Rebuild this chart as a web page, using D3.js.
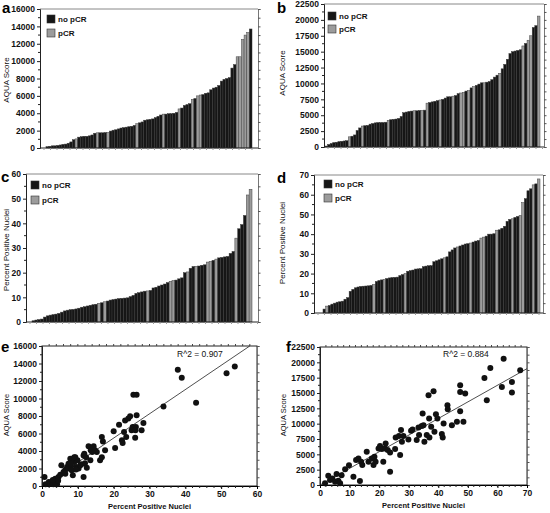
<!DOCTYPE html>
<html><head><meta charset="utf-8">
<script src="https://cdn.jsdelivr.net/npm/d3@7"></script>
<style>html,body{margin:0;padding:0;background:#fff}svg{display:block}</style>
</head><body>
<script>
// ---------- DATA ----------
// panel a: AQUA score per case (sorted), pCR flag 1 = pCR
const aquaA = [150,200,250,250,300,350,420,450,550,700,950,1050,1250,1300,1350,1350,1400,1500,1700,1750,1750,1750,1780,1800,1950,2050,2100,2200,2300,2350,2400,2450,2500,2600,2800,2900,3000,3200,3250,3300,3350,3500,3650,3800,3900,3900,3950,3950,4000,4100,4500,4600,4900,5000,5100,5600,5700,6000,6100,6150,6300,6350,6700,6900,7000,7200,7700,7900,8000,8100,9200,9600,10500,10500,12500,13000,13300,13700];
const pcrA  = [0,0,0,0,0,0,0,0,0,0,0,1,0,0,0,0,0,0,0,1,0,0,0,1,0,0,0,0,0,0,0,0,0,0,1,0,0,0,0,0,0,0,0,0,1,0,0,0,0,0,1,0,0,0,0,1,0,1,1,0,0,0,0,0,0,0,0,0,0,0,0,0,1,1,1,1,1,0];
// panel b
const aquaB = [150,400,550,700,750,850,900,950,1000,1600,1700,1900,2600,3000,3300,3350,3400,3600,3700,3800,3850,3850,3850,3900,4200,4300,4350,4400,4500,4800,5400,5500,5600,5650,5700,5700,5750,5750,5800,6900,7000,7100,7200,7300,7400,7500,7700,7900,7900,8000,8100,8400,8500,8600,8800,8900,9300,9500,9700,9900,10100,10100,10200,10300,10600,11000,11300,11600,12300,13000,13800,14700,15000,15100,15200,15300,15900,16300,16800,17500,18800,19100,20600];
const pcrB  = [0,0,0,0,0,0,0,0,0,1,0,0,0,0,1,0,0,0,0,0,0,0,0,0,1,0,0,0,0,0,0,0,0,0,1,0,0,1,0,1,0,0,0,0,1,0,0,0,0,1,0,0,1,1,0,1,0,1,0,0,0,1,0,0,0,0,0,1,0,0,0,0,0,0,0,0,1,0,1,1,0,0,1];
// panel c: percent positive nuclei
const pctC = [0.5,0.8,1.0,1.2,2.0,2.5,2.8,3.0,3.2,3.5,4.0,4.5,4.8,5.0,5.1,5.3,5.6,6.0,6.2,6.5,6.8,7.0,7.2,7.6,7.8,8.2,8.5,8.9,9.1,9.3,9.5,9.6,9.7,9.8,10.3,10.8,11.6,11.9,12.2,12.5,12.6,12.8,13.8,14.1,14.6,15.0,15.4,16.0,16.5,16.8,17.0,17.5,17.9,20.0,20.3,21.8,22.5,22.6,22.7,23.0,23.2,24.3,24.6,25.0,25.5,26.0,26.2,26.4,26.6,27.8,28.6,34.0,37.8,39.5,43.2,51.5,53.8];
const pcrC = [0,0,0,0,0,0,0,0,0,0,0,0,0,0,0,0,0,0,0,0,0,0,0,1,0,1,0,0,0,0,0,0,0,0,0,0,0,0,0,0,1,0,0,0,0,0,0,0,1,1,0,0,0,0,1,0,0,1,0,0,0,1,1,0,1,0,0,0,0,0,0,1,0,0,0,1,1];
// panel d
const pctD = [2,3.5,3.8,4.5,5,5.5,5.7,6,7,7.8,11,12,12.8,13.2,13.5,13.6,13.7,13.8,14,14.5,16,16.5,16.8,17,17.5,17.8,18,18.1,18.2,19,19.5,20,21.2,21.5,21.8,22.3,22.4,22.5,23.5,23.8,24,24,26,26.5,27,27.5,28,28.5,31,32,33,33.5,34,34.5,35,35.2,35.5,36,36.5,36.8,38,38.5,39,40,40,40.2,42,42.2,43,44,46.5,47.5,47.8,48.5,49,49.5,56,58,62,63,65,65.5,68];
const pcrD = [0,1,0,0,0,0,0,0,0,0,0,0,0,0,0,0,0,0,0,1,0,0,0,1,0,0,0,0,0,0,0,1,0,0,0,0,0,0,0,0,0,0,0,0,0,0,1,0,0,0,0,1,0,0,0,0,1,0,0,0,1,1,0,0,0,0,1,0,0,0,0,0,1,0,0,1,1,0,0,0,1,0,1];
// panel e: scatter (percent positive, AQUA)
const pctE  = [0.7,1,1.9,2.3,2.8,3.2,3.7,4.2,3.7,4.6,5.1,5.4,6,6.5,7,7.4,7.4,7.9,8.1,8.3,8.6,9,9.3,9.6,9.9,10.2,10.7,11.6,11.6,11.8,12.3,12.5,13,13.5,13.6,14.4,14.8,15.3,16.2,16.7,16.7,17,17.6,20,20.4,21.5,22.3,22.5,22.9,23.2,23.5,24.1,24.6,25,25.3,25.5,26,26.2,26.4,26.4,26.1,27.8,28.3,33.9,37.9,39,43,51.5,53.8,8,9.5,11,6.5,4.5,3,12,14,9];
const aquaE = [1030,200,460,270,460,190,460,190,840,1030,1300,2360,1600,1870,2170,2000,2550,3120,2250,1800,1220,2740,3300,2170,2930,2000,2360,1030,3500,3700,3300,2100,4530,2930,4080,4530,4080,3890,2930,3300,5600,5100,4080,6250,4340,7000,5220,4910,6160,7500,5600,7720,7960,6360,6740,10440,5520,6740,10440,8080,6360,6360,7200,9100,13300,12380,9520,12900,13670,2600,1900,2500,1400,600,700,2600,3900,3300];
const fitE = {slope: 277, intercept: -60, r2: "R^2 = 0.907"};
// panel f
const pctF  = [1.7,2.8,3.4,4.2,5.1,5.6,6.2,6.8,7.3,8.5,9.8,11.3,12.2,13,13.5,13.9,14.3,15.8,16.4,17.5,18.1,18.4,18.8,19.8,20.3,20.9,21.4,22,22.2,22.9,23.7,23.7,25.4,25.6,26.7,27.1,27.4,27.7,28.2,29.9,30.8,31.3,32.7,33.3,33.5,34.4,34.7,35,35.3,36.1,36.7,36.9,37,37.6,38.4,38.7,39.2,39.7,41.2,41.5,41.8,43.1,43.2,44.6,46.3,47.4,47.4,47.4,48.5,49.1,55.6,56.4,57.6,61.5,62.1,64.9,64.9,67.7];
const aquaF = [270,1520,810,1080,540,1790,700,270,1570,2550,3200,1360,4070,4340,650,3800,3250,5420,3800,4340,3250,4610,3800,5960,6340,5860,3800,5960,6780,5690,2170,5310,5860,7760,7970,4880,8950,7050,7970,7430,8840,9060,7320,9380,8140,9600,11660,9760,7050,8140,14640,10850,7760,9490,15290,8680,11550,10850,8300,7760,10030,13010,12360,9760,10300,16270,15180,12040,10300,14910,17460,13830,19080,15990,20600,16810,15070,18710];
const fitF = {slope: 271, intercept: 0, r2: "R^2 = 0.884"};

const legendLabels = ["no pCR", "pCR"];
const titleAqua = "AQUA Score", titlePct = "Percent Positive Nuclei";

// ---------- DRAW ----------
const svg = d3.select("body").append("svg").attr("width",550).attr("height",513);
const FONT = "Liberation Sans, Arial, sans-serif";
const DARK = "#161616", GREY = "#9c9c9c";

function yAxes(g, y, l, r, majors, minors, fmt) {
  const ax = g.append("g").attr("transform",`translate(${l},0)`)
    .call(d3.axisLeft(y).tickValues(majors).tickSize(3).tickPadding(2).tickFormat(fmt));
  ax.select(".domain").attr("stroke","#222");
  ax.selectAll(".tick line").attr("stroke","#222");
  ax.selectAll("text").attr("font-family",FONT).attr("font-size","8.5px").attr("font-weight","bold").attr("fill","#111");
  minors.forEach(v=>g.append("line").attr("x1",l-2).attr("x2",l).attr("y1",y(v)).attr("y2",y(v)).attr("stroke","#222"));
  const ar = g.append("g").attr("transform",`translate(${r},0)`)
    .call(d3.axisRight(y).tickValues(majors.concat(minors)).tickSize(2.5).tickFormat(""));
  ar.select(".domain").attr("stroke","#777");
  ar.selectAll(".tick line").attr("stroke","#555");
}

function barPanel(o) {
  const g = svg.append("g");
  const y = d3.scaleLinear().domain([0,o.yMax]).range([o.b,o.t]);
  const x = d3.scaleBand().domain(d3.range(o.values.length)).range([o.x0,o.x1]).paddingInner(0);
  // top frame
  g.append("line").attr("x1",o.l).attr("x2",o.r).attr("y1",o.t).attr("y2",o.t).attr("stroke","#888");
  // bars
  g.selectAll("rect.bar").data(o.values).join("rect")
    .attr("x",(d,i)=>x(i)).attr("width",x.bandwidth())
    .attr("y",d=>y(d)).attr("height",d=>o.b-y(d))
    .attr("fill",(d,i)=>o.pcr[i]?GREY:DARK)
    .attr("stroke",(d,i)=>o.pcr[i]?"#444":"#3a3a3a").attr("stroke-width",0.5);
  yAxes(g,y,o.l,o.r,d3.range(0,o.yMax+1e-9,o.step),d3.range(o.step/2,o.yMax,o.step),d3.format("d"));
  // bottom axis line + small ticks
  g.append("line").attr("x1",o.l).attr("x2",o.r).attr("y1",o.b).attr("y2",o.b).attr("stroke","#222");
  d3.range(o.l+4,o.r,6.5).forEach(v=>g.append("line").attr("x1",v).attr("x2",v).attr("y1",o.b).attr("y2",o.b+2).attr("stroke","#999"));
  // legend
  [0,1].forEach(k=>{
    g.append("rect").attr("x",o.lx).attr("y",o.ly+k*o.lgap).attr("width",8).attr("height",8)
      .attr("fill",k?GREY:DARK).attr("stroke","#333").attr("stroke-width",0.6);
    g.append("text").attr("x",o.lx+11).attr("y",o.ly+k*o.lgap+7).text(legendLabels[k])
      .attr("font-family",FONT).attr("font-size","8px").attr("font-weight","bold").attr("fill","#111");
  });
  g.append("text").attr("x",o.letX).attr("y",o.letY).text(o.letter)
    .attr("font-family",FONT).attr("font-size","15px").attr("font-weight","bold");
  g.append("text").attr("transform",`translate(${o.tx},${o.ty}) rotate(-90)`).attr("text-anchor","middle")
    .text(o.title).attr("font-family",FONT).attr("font-size","8px").attr("fill","#111");
}

function scatterPanel(o) {
  const g = svg.append("g");
  const x = d3.scaleLinear().domain([0,o.xMax]).range([o.l,o.r]);
  const y = d3.scaleLinear().domain([0,o.yMax]).range([o.b,o.t]);
  g.append("rect").attr("x",o.l).attr("y",o.t).attr("width",o.r-o.l).attr("height",o.b-o.t)
    .attr("fill","none").attr("stroke","#222");
  yAxes(g,y,o.l,o.r,d3.range(0,o.yMax+1e-9,o.yStep),d3.range(o.yStep/2,o.yMax,o.yStep),d3.format("d"));
  const ax = g.append("g").attr("transform",`translate(0,${o.b})`)
    .call(d3.axisBottom(x).tickValues(d3.range(0,o.xMax+1e-9,10)).tickSize(3).tickPadding(1.5).tickFormat(d3.format("d")));
  ax.selectAll("text").attr("font-family",FONT).attr("font-size","8.5px").attr("font-weight","bold").attr("fill","#111");
  d3.range(2,o.xMax,2).forEach(v=>{
    g.append("line").attr("x1",x(v)).attr("x2",x(v)).attr("y1",o.b).attr("y2",o.b+2).attr("stroke","#222");
    g.append("line").attr("x1",x(v)).attr("x2",x(v)).attr("y1",o.t).attr("y2",o.t-2).attr("stroke","#444");
  });
  // fit line
  const xs = Math.max(0,-o.fit.intercept/o.fit.slope), xe = Math.min(o.xMax,(o.yMax-o.fit.intercept)/o.fit.slope);
  g.append("line").attr("x1",x(xs)).attr("y1",y(o.fit.slope*xs+o.fit.intercept))
    .attr("x2",x(xe)).attr("y2",y(o.fit.slope*xe+o.fit.intercept)).attr("stroke","#222").attr("stroke-width",0.8);
  g.selectAll("circle").data(o.xs).join("circle")
    .attr("cx",d=>x(d)).attr("cy",(d,i)=>y(o.ys[i])).attr("r",3).attr("fill","#111");
  g.append("text").attr("x",o.rx).attr("y",o.ry).text(o.fit.r2)
    .attr("font-family",FONT).attr("font-size","8.5px").attr("fill","#111");
  g.append("text").attr("x",o.letX).attr("y",o.letY).text(o.letter)
    .attr("font-family",FONT).attr("font-size","15px").attr("font-weight","bold");
  g.append("text").attr("transform",`translate(${o.tx},${o.ty}) rotate(-90)`).attr("text-anchor","middle")
    .text(titleAqua).attr("font-family",FONT).attr("font-size","7.5px").attr("fill","#111");
  g.append("text").attr("x",(o.l+o.r)/2).attr("y",o.b+23).attr("text-anchor","middle")
    .text(titlePct).attr("font-family",FONT).attr("font-size","7.5px").attr("font-weight","bold").attr("fill","#111");
}

barPanel({values:aquaA,pcr:pcrA,yMax:16000,step:2000,l:40,r:258,t:9,b:148,x0:46,x1:252,
  lx:47,ly:15,lgap:14,letter:"a",letX:2,letY:13,title:titleAqua,tx:9,ty:80});
barPanel({values:aquaB,pcr:pcrB,yMax:22500,step:2500,l:324,r:544,t:4,b:147,x0:325,x1:540,
  lx:328,ly:12,lgap:13,letter:"b",letX:277,letY:13,title:titleAqua,tx:285,ty:73});
barPanel({values:pctC,pcr:pcrC,yMax:60,step:10,l:26,r:258,t:174,b:322,x0:32,x1:252,
  lx:31,ly:181,lgap:15,letter:"c",letX:1,letY:182,title:titlePct,tx:9,ty:250});
barPanel({values:pctD,pcr:pcrD,yMax:70,step:10,l:314,r:543,t:175,b:313,x0:323,x1:540,
  lx:324,ly:180,lgap:14,letter:"d",letX:277,letY:183,title:titlePct,tx:285,ty:243});
scatterPanel({xs:pctE,ys:aquaE,fit:fitE,xMax:60,yMax:16000,yStep:2000,l:42,r:257,t:346,b:486,
  rx:177,ry:357,letter:"e",letX:1,letY:352,tx:9,ty:415});
scatterPanel({xs:pctF,ys:aquaF,fit:fitF,xMax:70,yMax:22500,yStep:2500,l:320,r:527,t:347,b:485,
  rx:443,ry:357,letter:"f",letX:286,letY:352,tx:286,ty:415});
</script>
</body></html>
